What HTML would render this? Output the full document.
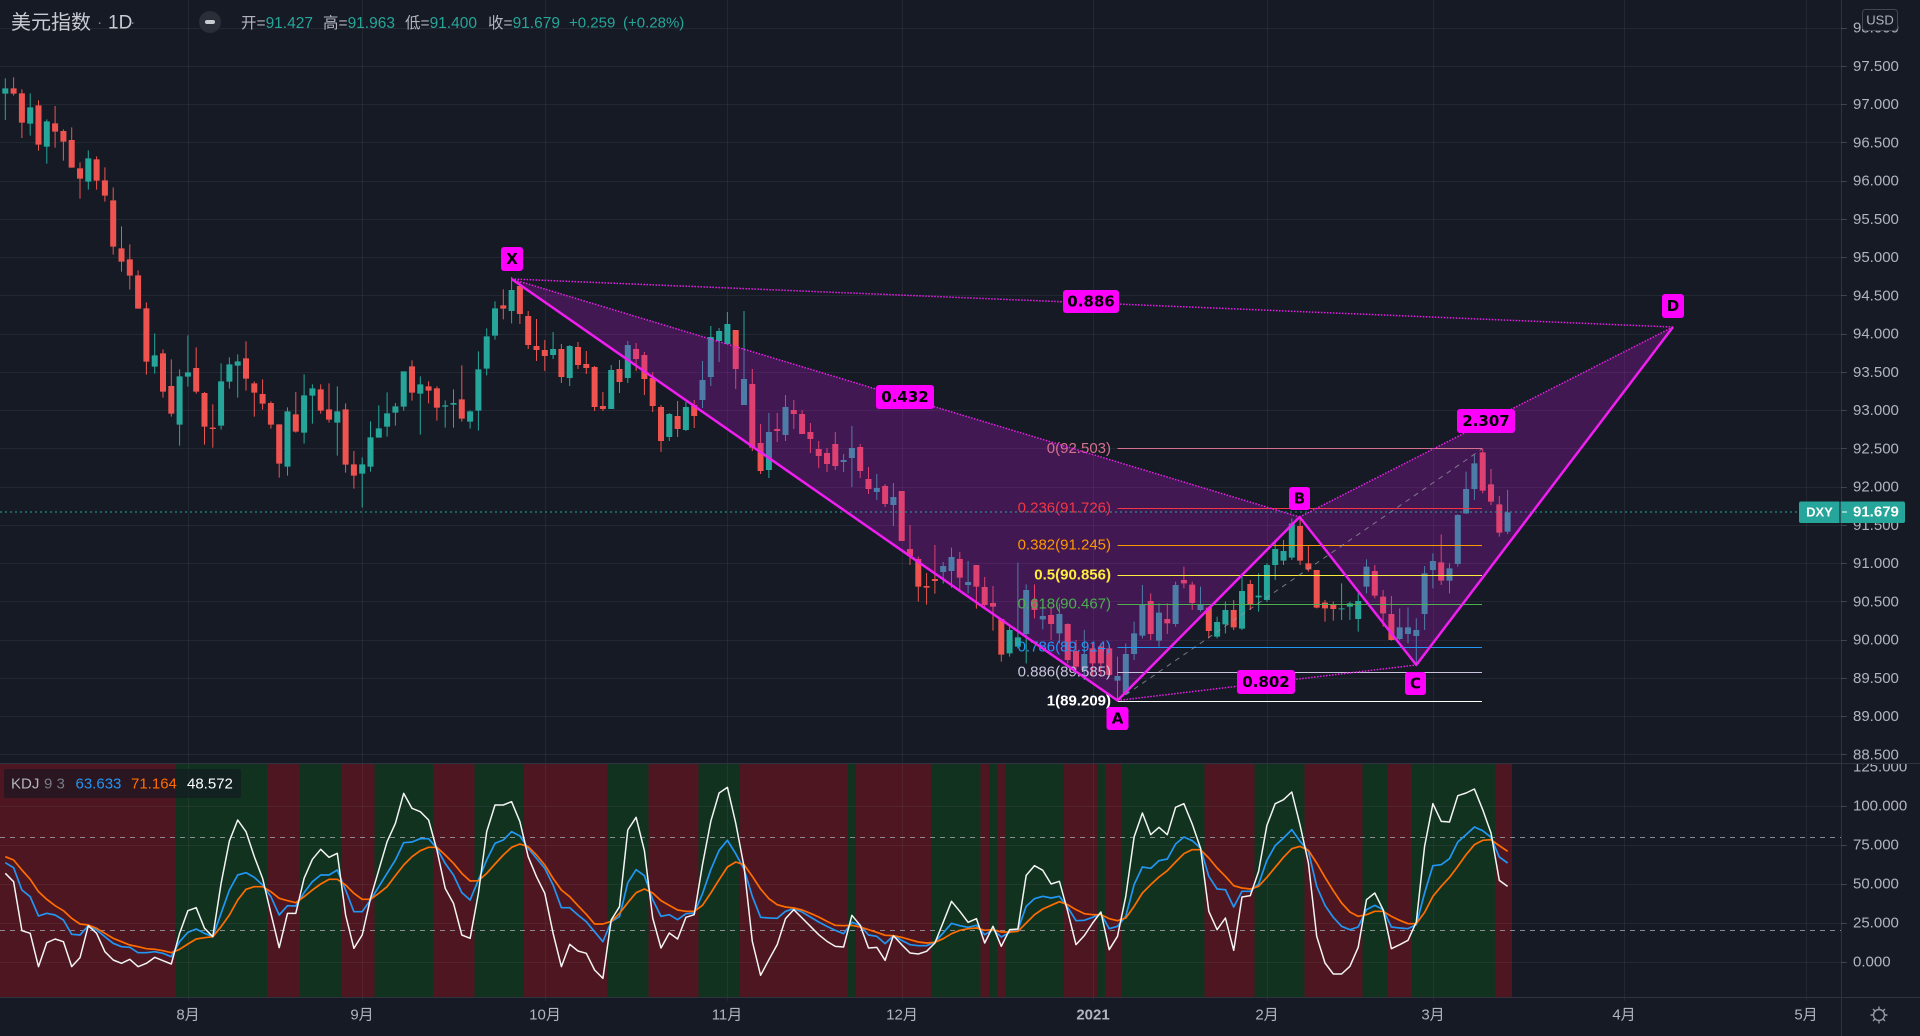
<!DOCTYPE html>
<html><head><meta charset="utf-8">
<style>
html,body{margin:0;padding:0;background:#161a25;}
body{width:1920px;height:1036px;overflow:hidden;position:relative;}
svg{position:absolute;left:0;top:0;}
text{font-family:"Liberation Sans","Noto Sans CJK SC",sans-serif;dominant-baseline:central;}
.ax{font-size:15px;fill:#b2b5be;}
.fib{font-size:15px;text-anchor:end;}
.pl{font-family:"DejaVu Sans","Liberation Sans",sans-serif;font-size:15px;font-weight:bold;fill:#000;text-anchor:middle;}
.tm{font-size:15px;fill:#b2b5be;text-anchor:middle;}
</style></head><body>
<svg width="1920" height="1036" viewBox="0 0 1920 1036" xmlns="http://www.w3.org/2000/svg">
<defs>
<clipPath id="kclip"><rect x="0" y="764" width="1920" height="233"/></clipPath>
</defs>
<rect width="1920" height="1036" fill="#161a25"/>

<!-- KDJ background bands -->
<g transform="translate(1.15,764) scale(8.3,1)" shape-rendering="crispEdges">
<rect x="-1" y="0" width="183" height="233" fill="#4e1620"/>
<g fill="#123220">
<rect x="21" y="0" width="11" height="233"/>
<rect x="36" y="0" width="5" height="233"/>
<rect x="45" y="0" width="7" height="233"/>
<rect x="57" y="0" width="6" height="233"/>
<rect x="73" y="0" width="5" height="233"/>
<rect x="84" y="0" width="5" height="233"/>
<rect x="102" y="0" width="1" height="233"/>
<rect x="112" y="0" width="6" height="233"/>
<rect x="119" y="0" width="1" height="233"/>
<rect x="121" y="0" width="7" height="233"/>
<rect x="132" y="0" width="1" height="233"/>
<rect x="135" y="0" width="10" height="233"/>
<rect x="151" y="0" width="6" height="233"/>
<rect x="164" y="0" width="3" height="233"/>
<rect x="170" y="0" width="10" height="233"/>
</g>
</g>

<!-- grid -->
<g stroke="#787b86" stroke-opacity="0.14" stroke-width="1" fill="none" shape-rendering="crispEdges">
<path d="M0 28.5H1846M0 66.5H1846M0 104.5H1846M0 142.5H1846M0 181.5H1846M0 219.5H1846M0 257.5H1846M0 295.5H1846M0 334.5H1846M0 372.5H1846M0 410.5H1846M0 448.5H1846M0 487.5H1846M0 525.5H1846M0 563.5H1846M0 601.5H1846M0 640.5H1846M0 678.5H1846M0 716.5H1846M0 754.5H1846"/>
<path d="M0 806.5H1846M0 845.5H1846M0 884.5H1846M0 923.5H1846M0 962.5H1846"/>
<path d="M188.5 0V1001M362.5 0V1001M545.5 0V1001M727.5 0V1001M902.5 0V1001M1093.5 0V1001M1267.5 0V1001M1433.5 0V1001M1624.5 0V1001M1806.5 0V1001"/>
</g>
<!-- KDJ 80/20 dashed -->
<g stroke="#a3a6af" stroke-opacity="0.8" stroke-width="1" stroke-dasharray="5 5" shape-rendering="crispEdges">
<path d="M0 837.5H1841M0 930.5H1841"/>
</g>

<!-- Candles -->
<g fill="none" stroke-linecap="butt">
<g transform="translate(5.3,70) scale(8.3,0.333333)">
<path stroke="#26a69a" stroke-width="0.1205" d="M0 25V150M3 70V197M5 148V281M10 241V359M18 790V911M21 898V1127M22 796V950M26 880V1079M27 862V956M28 853V983M34 1012V1217M36 913V1121M37 943V1061M40 949V1157M43 1162V1313M44 1054V1205M45 1006V1103M46 967V1100M47 999V1067M48 904V1022M50 919V1094M53 991V1073M54 958V1073M56 1021V1076M57 844V1082M58 775V916M59 694V809M61 621V760"/>
<path stroke="#26a69a" stroke-width="0.7229" d="M0 55V71M3 112V161M5 154V230M10 265V335M18 856V890M21 919V1064M22 907V920M26 934V1067M27 883V935M28 874V887M34 1024V1190M36 976V1088M37 955V977M40 1024V1058M43 1183V1211M44 1102V1190M45 1075V1103M46 1030V1070M47 1009V1028M48 904V1010M50 943V971M53 1006V1010M54 999V1004M56 1024V1055M57 898V1022M58 799V896M59 715V797M61 660V723"/>
<path stroke="#ef5350" stroke-width="0.1205" d="M1 22V77M2 58V204M4 91V242M6 108V233M7 178V272M8 172V293M9 277V386M11 259V359M12 292V395M13 352V554M14 469V605M15 523V659M16 601V716M17 697V914M19 838V983M20 868V1040M23 832V971M24 966V1124M25 1003V1133M29 814V962M30 934V1040M31 928V1019M32 994V1076M33 1063V1223M35 966V1088M38 943V1031M39 940V1058M41 1000V1208M42 1143V1256M49 871V992M51 934V1000M52 949V1052M55 886V1055M60 658V748"/>
<path stroke="#ef5350" stroke-width="0.7229" d="M1 55V71M2 70V158M4 106V224M6 160V185M7 183V215M8 210V293M9 295V326M11 268V332M12 331V377M13 391V530M14 535V575M15 568V617M16 616V716M17 715V875M19 850V965M20 948V1031M23 894V965M24 969V1070M25 1073V1077M29 865V926M30 940V968M31 972V1001M32 999V1064M33 1063V1181M35 1033V1085M38 958V1022M39 1018V1049M41 1018V1184M42 1183V1217M49 889V968M51 949V962M52 955V1013M55 988V1046M60 706V716"/>
</g>
<g transform="translate(5.3,290) scale(8.3,0.333333)">
<path stroke="#26a69a" stroke-width="0.1205" d="M66 126V207M68 165V288M73 225V357M75 153V279M80 369V453M82 336V423M84 213V354M85 108V288M86 114V216M87 66V162M89 63V345M92 369V564M94 315V453M101 492V546M102 408V591M105 552V630M107 579V708M113 816V881M114 773V893M116 813V911"/>
<path stroke="#26a69a" stroke-width="0.7229" d="M66 177V195M68 168V264M73 240V357M75 165V264M80 372V441M82 351V420M84 270V330M85 141V261M86 123V153M87 102V162M89 267V345M92 426V540M94 351V435M101 510V516M102 474V504M105 594V606M107 621V645M113 828V846M114 801V843M116 876V885"/>
<path stroke="#ef5350" stroke-width="0.1205" d="M62 -25V102M63 63V177M64 87V213M65 150V243M67 162V279M69 156V237M70 183V252M71 228V363M72 306V363M74 210V309M76 159V243M77 186V315M78 246V366M79 345V486M81 333V441M83 330V414M88 120V297M90 237V483M91 402V552M93 369V456M95 330V417M96 360V432M97 399V489M98 453V534M99 474V546M100 426V540M103 462V564M104 531V612M106 582V651M108 603V753M109 705V825M110 800V935M111 849V944M112 765V911M115 786V899M117 825V956M118 861V956M119 888V1022M120 987V1115"/>
<path stroke="#ef5350" stroke-width="0.7229" d="M62 -12V72M63 78V165M64 168V180M65 180V198M67 177V261M69 171V225M70 222V234M71 231V351M72 348V357M74 237V276M76 177V207M77 195V267M78 264V348M79 351V453M81 378V417M83 345V378M88 120V237M90 282V473M91 459V543M93 417V423M95 360V372M96 372V432M97 426V447M98 477V498M99 489V522M100 462V528M103 471V543M104 567V597M106 588V642M108 603V753M109 777V798M110 807V890M111 888V893M112 867V873M115 807V863M117 825V890M118 891V945M119 939V950M120 987V1094"/>
</g>
<g transform="translate(5.3,430) scale(8.3,0.333333)">
<path stroke="#26a69a" stroke-width="0.1205" d="M121 590V680M122 398V655M123 463V700M125 530V598M127 520V640M130 600V750M134 680V811M135 640V795M136 575V690M137 465V625M139 520V650M141 455V590M144 470V545M146 560V625M147 515V610M149 430V600M151 430V545M152 400V515M153 330V450M154 330V405M155 265V390M161 460V570M162 515V570M163 490V605M164 388V490M168 535V630M169 532V640M170 565V705M171 408V600M172 370V475M174 400V490M175 253V410M176 125V252M177 75V210M181 180V312"/>
<path stroke="#26a69a" stroke-width="0.7229" d="M121 600V670M122 622V650M123 480V612M125 558V568M127 552V610M130 672V720M134 738V752M135 672V790M136 610V672M137 525V617M139 548V632M141 465V582M144 525V540M146 576V620M147 540V583M149 483V596M151 497V502M152 405V510M153 357V405M154 363V392M155 280V383M161 535V538M162 520V530M163 513V567M164 410V470M168 592V627M169 592V612M170 600V618M171 430V552M172 393V420M174 415V452M175 255V402M176 177V250M177 100V177M181 247V305"/>
<path stroke="#ef5350" stroke-width="0.1205" d="M124 463V565M126 530V630M128 580V700M129 630V720M131 640V735M132 640V740M133 650V740M138 490V630M140 520V612M142 410V475M143 455V540M145 530V625M148 510V600M150 450V540M156 262V405M157 345V425M158 420V535M159 510V575M160 515V572M165 405V505M166 480V590M167 498V632M173 313V465M178 55V190M179 117V225M180 198V320"/>
<path stroke="#ef5350" stroke-width="0.7229" d="M124 510V540M126 555V582M128 582V690M129 663V710M131 655V700M132 650V700M133 655V735M138 513V612M140 567V580M142 450V460M143 464V519M145 533V603M148 540V592M150 462V525M156 288V392M157 400V418M158 420V533M159 518V535M160 525V537M165 423V497M166 500V550M167 552V630M173 397V452M178 67V182M179 163V215M180 223V308"/>
</g>
</g>

<!-- Pattern fills (over candles) -->
<g fill="#b414c8" fill-opacity="0.28">
<polygon points="511.6,279 1117.5,700.5 1299.6,517"/>
<polygon points="1299.6,517 1416.3,665 1673,327"/>
</g>

<!-- Fibonacci retracement (above fill) -->
<g stroke-width="1" shape-rendering="crispEdges">
<path d="M1117.5 448.5H1482" stroke="#d6708f"/>
<path d="M1117.5 508.5H1482" stroke="#f23645"/>
<path d="M1117.5 545.5H1482" stroke="#ff9800"/>
<path d="M1117.5 575.5H1482" stroke="#ffeb3b"/>
<path d="M1117.5 604.5H1482" stroke="#4caf50"/>
<path d="M1117.5 647.5H1482" stroke="#2196f3"/>
<path d="M1117.5 672.5H1482" stroke="#c9c3dd"/>
<path d="M1117.5 701.5H1482" stroke="#ffffff"/>
</g>
<line x1="1117.5" y1="700.5" x2="1482" y2="449" stroke="#9598a1" stroke-opacity="0.75" stroke-width="1" stroke-dasharray="5 5"/>
<text class="fib" x="1111" y="448.5" fill="#d6708f">0(92.503)</text>
<text class="fib" x="1111" y="508" fill="#f23645">0.236(91.726)</text>
<text class="fib" x="1111" y="545" fill="#ff9800">0.382(91.245)</text>
<text class="fib" x="1111" y="575" fill="#ffeb3b" font-weight="bold">0.5(90.856)</text>
<text class="fib" x="1111" y="604" fill="#4caf50">0.618(90.467)</text>
<text class="fib" x="1111" y="647" fill="#2196f3">0.786(89.914)</text>
<text class="fib" x="1111" y="672" fill="#c9c3dd">0.886(89.585)</text>
<text class="fib" x="1111" y="701" fill="#ffffff" font-weight="bold">1(89.209)</text>

<!-- current price dotted line -->
<line x1="0" y1="512" x2="1799" y2="512" stroke="#26a69a" stroke-width="1" stroke-dasharray="2 3"/>

<!-- pattern dotted lines -->
<g stroke="#e91ee9" stroke-width="1.5" stroke-dasharray="1.5 1.5" fill="none">
<line x1="511.6" y1="279" x2="1299.6" y2="517"/>
<line x1="511.6" y1="279" x2="1673" y2="327"/>
<line x1="1117.5" y1="700.5" x2="1416.3" y2="665"/>
<line x1="1299.6" y1="517" x2="1673" y2="327"/>
</g>
<!-- pattern solid lines -->
<polyline points="511.6,279 1117.5,700.5 1299.6,517 1416.3,665 1673,327" fill="none" stroke="#f01ef0" stroke-width="2.5" stroke-linejoin="round"/>

<!-- pattern labels -->
<g fill="#ff00ff">
<rect x="501" y="247" width="22" height="24" rx="3"/>
<rect x="1106.5" y="707" width="22" height="23" rx="3"/>
<rect x="1289" y="487" width="21" height="23" rx="3"/>
<rect x="1405" y="672" width="21" height="23" rx="3"/>
<rect x="1662" y="294" width="22" height="24" rx="3"/>
<rect x="1063" y="290" width="56" height="23" rx="3"/>
<rect x="876" y="385" width="58" height="24" rx="3"/>
<rect x="1237" y="670" width="58" height="24" rx="3"/>
<rect x="1457" y="409" width="58" height="24" rx="3"/>
</g>
<text class="pl" x="512" y="259">X</text>
<text class="pl" x="1117.5" y="718.5">A</text>
<text class="pl" x="1299.5" y="498.5">B</text>
<text class="pl" x="1415.5" y="683.5">C</text>
<text class="pl" x="1673" y="306">D</text>
<text class="pl" x="1091" y="301.5">0.886</text>
<text class="pl" x="905" y="397">0.432</text>
<text class="pl" x="1266" y="682">0.802</text>
<text class="pl" x="1486" y="421">2.307</text>

<!-- KDJ lines -->
<g fill="none" stroke-linejoin="round" clip-path="url(#kclip)">
<polyline transform="translate(5.3,760) scale(8.3,0.333333)" vector-effect="non-scaling-stroke" stroke="#2196f3" stroke-width="1.7" points="0,308 1,323 2,390 3,410 4,468 5,460 6,465 7,480 8,523 9,525 10,497 11,510 12,530 13,550 14,560 15,562 16,578 17,578 18,575 19,580 20,590 21,545 22,517 23,507 24,520 25,530 26,460 27,390 28,345 29,338 30,352 31,375 32,410 33,465 34,437 35,438 36,398 37,365 38,345 39,345 40,330 41,390 42,455 43,455 44,420 45,380 46,340 47,300 48,248 49,246 50,236 51,236 52,265 53,310 54,345 55,398 56,420 57,360 58,300 59,250 60,240 61,215 62,228 63,265 64,295 65,325 66,375 67,443 68,443 69,465 70,485 71,515 72,545 73,485 74,470 75,368"/>
<polyline transform="translate(5.3,763) scale(8.3,0.333333)" vector-effect="non-scaling-stroke" stroke="#2196f3" stroke-width="1.7" points="75,359 76,320 77,338 78,410 79,460 80,455 81,470 82,452 83,450 84,392 85,320 86,262 87,232 88,272 89,318 90,400 91,463 92,465 93,466 94,445 95,437 96,447 97,462 98,477 99,490 100,502 101,512 102,478 103,487 104,516 105,520 106,542 107,518 108,532 109,545 110,548 111,548 112,537 113,510 114,481 115,488 116,493 117,487 118,515 119,500 120,522 121,508 122,500 123,430 124,407 125,400 126,405 127,400 128,433 129,473 130,472 131,463 132,452 133,497 134,490 135,460 136,365 137,312 138,316 139,293 140,288 141,243 142,222 143,233 144,255 145,340 146,378 147,380 148,432 149,385 150,385 151,363 152,292 153,248 154,225 155,200 156,235 157,265 158,370 159,427 160,463 161,490 162,500 163,492 164,440 165,427 166,440 167,492 168,495 169,497 170,485 171,390 172,308 173,305 174,287 175,237 176,215 177,192 178,203 179,223 180,282 181,300"/>
<polyline transform="translate(5.3,760) scale(8.3,0.333333)" vector-effect="non-scaling-stroke" stroke="#ff6d00" stroke-width="1.7" points="0,290 1,300 2,330 3,358 4,395 5,418 6,437 7,452 8,475 9,492 10,495 11,505 12,520 13,535 14,545 15,555 16,560 17,566 18,568 19,572 20,578 21,568 22,552 23,537 24,533 25,530 26,500 27,465 28,420 29,388 30,380 31,380 32,395 33,415 34,422 35,428 36,410 37,390 38,372 39,358 40,358 41,375 42,400 43,418 44,418 45,400 46,380 47,347 48,315 49,290 50,272 51,262 52,262 53,285 54,310 55,340 56,363 57,362 58,340 59,312 60,285 61,262 62,252 63,260 64,285 65,315 66,355 67,390 68,410 69,437 70,463 71,492 72,492 73,484 74,460 75,428 76,398"/>
<polyline transform="translate(5.3,763) scale(8.3,0.333333)" vector-effect="non-scaling-stroke" stroke="#ff6d00" stroke-width="1.7" points="76,389 77,378 78,390 79,413 80,427 81,441 82,445 83,445 84,427 85,390 86,350 87,312 88,297 89,305 90,340 91,378 92,407 93,425 94,432 95,435 96,441 97,451 98,462 99,475 100,487 101,488 102,487 103,492 104,500 105,508 106,517 107,518 108,523 109,530 110,537 111,540 112,538 113,527 114,512 115,502 116,497 117,495 118,502 119,500 120,507 121,507 122,505 123,480 124,455 125,438 126,427 127,416 128,425 129,440 130,452 131,455 132,455 133,467 134,473 135,465 136,430 137,390 138,365 139,342 140,323 141,297 142,272 143,260 144,260 145,285 146,315 147,340 148,368 149,375 150,378 151,370 152,343 153,313 154,283 155,257 156,250 157,262 158,300 159,343 160,383 161,420 162,447 163,460 164,455 165,445 166,445 167,460 168,472 169,482 170,482 171,448 172,400 173,370 174,343 175,310 176,275 177,245 178,232 179,230 180,248 181,265"/>
<polyline transform="translate(5.3,760) scale(8.3,0.333333)" vector-effect="non-scaling-stroke" stroke="#f4f4f4" stroke-width="1.5" points="0,340 1,365 2,512 3,520 4,620 5,548 6,537 7,545 8,620 9,593 10,497 11,520 12,575 13,600 14,610 15,598 16,620 17,610 18,592 19,602 20,612 21,520 22,452 23,443 24,505 25,530 26,370 27,243 28,180 29,215 30,290 31,355 32,460 33,563 34,460 35,460 36,355 37,298 38,268 39,292 40,280 41,465 42,565 43,525 44,415 45,330 46,245 47,190 48,100 49,145 50,155 51,180 52,270 53,385 54,430 55,525 56,535 57,400 58,215 59,135 60,135 61,125 62,185 63,290 64,350 65,400 66,520 67,620 68,553 69,573 70,580 71,630 72,655 73,480 74,440 75,210"/>
<polyline transform="translate(5.3,763) scale(8.3,0.333333)" vector-effect="non-scaling-stroke" stroke="#f4f4f4" stroke-width="1.5" points="75,201 76,163 77,263 78,465 79,555 80,510 81,528 82,463 83,455 84,305 85,175 86,90 87,73 88,180 89,310 90,535 91,637 92,590 93,545 94,467 95,440 96,465 97,490 98,515 99,535 100,550 101,552 102,457 103,487 104,555 105,553 106,592 107,518 108,545 109,570 110,573 111,565 112,540 113,478 114,415 115,445 116,478 117,467 118,540 119,490 120,550 121,500 122,498 123,337 124,308 125,322 126,363 127,355 128,445 129,545 130,518 131,480 132,447 133,560 134,520 135,400 136,222 137,150 138,215 139,193 140,215 141,133 142,122 143,183 144,255 145,445 146,500 147,465 148,562 149,402 150,398 151,325 152,187 153,122 154,110 155,87 156,187 157,300 158,520 159,600 160,633 161,633 162,610 163,553 164,410 165,390 166,440 167,557 168,545 169,532 170,477 171,250 172,122 173,175 174,177 175,98 176,90 177,78 178,140 179,210 180,352 181,370"/>
</g>

<!-- pane separators / axis borders -->
<g stroke="#2f3340" stroke-width="1" shape-rendering="crispEdges">
<path d="M0 763.5H1920"/>
<path d="M0 997.5H1920"/>
<path d="M1841.5 0V1036"/>
</g>
<!-- price axis ticks -->
<g stroke="#787b86" stroke-opacity="0.35" stroke-width="1" shape-rendering="crispEdges">
<path d="M1841 28.5H1847M1841 66.5H1847M1841 104.5H1847M1841 142.5H1847M1841 181.5H1847M1841 219.5H1847M1841 257.5H1847M1841 295.5H1847M1841 334.5H1847M1841 372.5H1847M1841 410.5H1847M1841 448.5H1847M1841 487.5H1847M1841 525.5H1847M1841 563.5H1847M1841 601.5H1847M1841 640.5H1847M1841 678.5H1847M1841 716.5H1847M1841 754.5H1847M1841 806.5H1847M1841 845.5H1847M1841 884.5H1847M1841 923.5H1847M1841 962.5H1847"/>
</g>

<!-- price axis labels -->
<g class="ax">
<text class="ax" x="1853" y="28">98.000</text>
<text class="ax" x="1853" y="66.25">97.500</text>
<text class="ax" x="1853" y="104.5">97.000</text>
<text class="ax" x="1853" y="142.75">96.500</text>
<text class="ax" x="1853" y="181">96.000</text>
<text class="ax" x="1853" y="219.25">95.500</text>
<text class="ax" x="1853" y="257.5">95.000</text>
<text class="ax" x="1853" y="295.75">94.500</text>
<text class="ax" x="1853" y="334">94.000</text>
<text class="ax" x="1853" y="372.25">93.500</text>
<text class="ax" x="1853" y="410.5">93.000</text>
<text class="ax" x="1853" y="448.75">92.500</text>
<text class="ax" x="1853" y="487">92.000</text>
<text class="ax" x="1853" y="525.25">91.500</text>
<text class="ax" x="1853" y="563.5">91.000</text>
<text class="ax" x="1853" y="601.75">90.500</text>
<text class="ax" x="1853" y="640">90.000</text>
<text class="ax" x="1853" y="678.25">89.500</text>
<text class="ax" x="1853" y="716.5">89.000</text>
<text class="ax" x="1853" y="754.75">88.500</text>
</g>
<g clip-path="url(#kclip)">
<text class="ax" x="1853" y="767">125.000</text>
<text class="ax" x="1853" y="806">100.000</text>
<text class="ax" x="1853" y="845">75.000</text>
<text class="ax" x="1853" y="884">50.000</text>
<text class="ax" x="1853" y="923">25.000</text>
<text class="ax" x="1853" y="962">0.000</text>
</g>

<!-- USD box -->
<rect x="1862.5" y="9.5" width="35" height="21" rx="3" fill="#161a25" stroke="#434651" stroke-width="1"/>
<text x="1880" y="20" font-size="13" fill="#b2b5be" text-anchor="middle">USD</text>

<!-- DXY price label -->
<rect x="1799" y="501.5" width="106" height="21.5" rx="2" fill="#26a69a"/>
<line x1="1840" y1="501.5" x2="1840" y2="523" stroke="#161a25" stroke-width="1"/>
<line x1="1842" y1="512" x2="1847" y2="512" stroke="#ffffff" stroke-width="1"/>
<text x="1819.5" y="512" font-size="13" font-weight="bold" fill="#ffffff" text-anchor="middle">DXY</text>
<text x="1853" y="512" font-size="15" font-weight="bold" fill="#ffffff">91.679</text>

<!-- time axis -->
<text class="tm" x="188" y="1015">8月</text>
<text class="tm" x="362" y="1015">9月</text>
<text class="tm" x="545" y="1015">10月</text>
<text class="tm" x="727" y="1015">11月</text>
<text class="tm" x="902" y="1015">12月</text>
<text class="tm" x="1093" y="1015" font-weight="bold" fill="#d1d4dc">2021</text>
<text class="tm" x="1267" y="1015">2月</text>
<text class="tm" x="1433" y="1015">3月</text>
<text class="tm" x="1624" y="1015">4月</text>
<text class="tm" x="1806" y="1015">5月</text>
<g transform="translate(1879,1015)" stroke="#9598a1" stroke-width="1.4" fill="none">
<circle r="5.5"/>
<path d="M0 -8.5V-5.5M0 5.5V8.5M-8.5 0H-5.5M5.5 0H8.5M-6 -6L-3.9 -3.9M3.9 3.9L6 6M-6 6L-3.9 3.9M3.9 -3.9L6 -6"/>
</g>

<!-- header -->
<text x="11" y="23" font-size="20" fill="#c8cbd2">美元指数</text>
<text x="97" y="23" font-size="16" fill="#787b86">·</text>
<text x="108" y="23" font-size="19" fill="#c8cbd2">1D</text>
<text x="130" y="23" font-size="16" fill="#787b86">·</text>
<circle cx="210" cy="22" r="11" fill="#2a2e39"/>
<rect x="205" y="20" width="10" height="4" rx="2" fill="#c8cbd2"/>
<text x="241" y="23" font-size="15.5"><tspan fill="#b2b5be">开=</tspan><tspan fill="#26a69a">91.427</tspan></text>
<text x="323" y="23" font-size="15.5"><tspan fill="#b2b5be">高=</tspan><tspan fill="#26a69a">91.963</tspan></text>
<text x="405" y="23" font-size="15.5"><tspan fill="#b2b5be">低=</tspan><tspan fill="#26a69a">91.400</tspan></text>
<text x="488" y="23" font-size="15.5"><tspan fill="#b2b5be">收=</tspan><tspan fill="#26a69a">91.679</tspan></text>
<text x="569" y="23" font-size="15" fill="#26a69a">+0.259</text>
<text x="623" y="23" font-size="15" fill="#26a69a">(+0.28%)</text>

<!-- KDJ legend -->
<rect x="4" y="769" width="237" height="29" rx="2" fill="#131722" fill-opacity="0.6"/>
<text x="11" y="784" font-size="15" fill="#b2b5be">KDJ</text>
<text x="44" y="784" font-size="15" fill="#787b86">9 3</text>
<text x="75.5" y="784" font-size="15" fill="#2196f3">63.633</text>
<text x="131" y="784" font-size="15" fill="#ff6d00">71.164</text>
<text x="187" y="784" font-size="15" fill="#ffffff">48.572</text>
</svg>
</body></html>
